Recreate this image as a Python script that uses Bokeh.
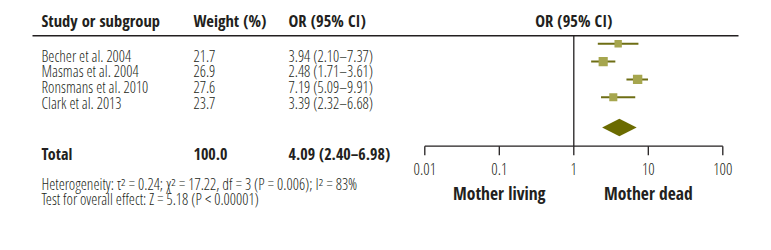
from bokeh.plotting import figure
from bokeh.models import Range1d, LogScale
from bokeh.core.properties import value
from bokeh.embed import file_html
from bokeh.resources import INLINE

# ---- data ----
studies = ["Becher et al. 2004", "Masmas et al. 2004", "Ronsmans et al. 2010", "Clark et al. 2013"]
weights = [21.7, 26.9, 27.6, 23.7]
odds = [3.94, 2.48, 7.19, 3.39]
ci_low = [2.10, 1.71, 5.09, 2.32]
ci_high = [7.37, 3.61, 9.91, 6.68]
total_label = "Total"
total_weight = 100.0
total_or = 4.09
total_low = 2.40
total_high = 6.98
ticks = [0.01, 0.1, 1, 10, 100]
tick_labels = ["0.01", "0.1", "1", "10", "100"]
side_labels = ["Mother living", "Mother dead"]
side_pos = [0.1, 10]
headers = ["Study or subgroup", "Weight (%)", "OR (95% CI)"]
note1 = "Heterogeneity: \u03c4\u00b2\u2009=\u20090.24; \u03c7\u00b2\u2009=\u200917.22, df\u2009=\u20093 (P\u2009=\u20090.006); I\u00b2\u2009=\u200983%"
note2 = "Test for overall effect: Z\u2009=\u20095.18 (P\u2009<\u20090.00001)"

REG = "'Open Sans Condensed Light', Roboto, sans-serif"
BOLD = "Open Sans Condensed"
TXT = "#231f20"
W, H = 771, 250

# log scale: value 1 at x=573.3, 74.5 px per decade
x_one, per_dec = 573.3, 74.5
lo = 10 ** (-x_one / per_dec)
hi = 10 ** ((W - x_one) / per_dec)

p = figure(width=W, height=H, output_backend="svg", toolbar_location=None,
           x_range=Range1d(0, W), y_range=Range1d(H, 0),
           min_border=0, outline_line_color=None)
p.extra_x_ranges = {"log": Range1d(lo, hi)}
p.extra_x_scales = {"log": LogScale()}
p.xaxis.visible = False
p.yaxis.visible = False
p.xgrid.visible = False
p.ygrid.visible = False
p.background_fill_color = "white"
p.border_fill_color = "white"

col_x = [41, 193, 288]
header_y = 19.5
row_y = [55 + 15.67 * i for i in range(len(studies))]
total_y = 153.3

# headers
p.text(x=col_x, y=[header_y] * 3, text=headers, text_font=value(BOLD), text_font_style="bold",
       text_font_size="16.5px", text_baseline="middle", text_color=TXT)
p.text(x=[1], y=[header_y], text=["OR (95% CI)"], x_range_name="log", text_font=value(BOLD),
       text_font_style="bold", text_font_size="16.5px", text_baseline="middle", text_align="center",
       text_color=TXT)
p.line(x=[32, 738], y=[35.3, 35.3], line_color=TXT, line_width=1.5)

# rows
or_text = [f"{o:.2f} ({l:.2f}\u2013{h:.2f})" for o, l, h in zip(odds, ci_low, ci_high)]
w_text = [f"{w:.1f}" for w in weights]
for xs, txt in zip(col_x, [studies, w_text, or_text]):
    p.text(x=[xs] * len(txt), y=row_y, text=txt, text_font=value(REG), text_font_size="15.5px",
           text_baseline="middle", text_color=TXT)

# total row
tot = [total_label, f"{total_weight:.1f}", f"{total_or:.2f} ({total_low:.2f}\u2013{total_high:.2f})"]
p.text(x=col_x, y=[total_y] * 3, text=tot, text_font=value(BOLD), text_font_style="bold",
       text_font_size="16px", text_baseline="middle", text_color=TXT)

# notes
p.text(x=[41, 41], y=[183.3, 198.5], text=[note1, note2], text_font=value(REG),
       text_font_size="15.5px", text_baseline="middle", text_color=TXT)

# forest plot
mark_y = [43.3 + 17.8 * i for i in range(len(studies))]
diamond_y = 127
axis_y = 145.7
p.line(x=[1, 1], y=[35.3, axis_y], x_range_name="log", line_color=TXT, line_width=1.3)
p.segment(x0=ci_low, x1=ci_high, y0=mark_y, y1=mark_y, x_range_name="log",
          line_color="#6e6e14", line_width=2)
p.scatter(x=odds, y=mark_y, size=[w * 0.34 for w in weights], marker="square",
          x_range_name="log", fill_color="#a6a64e", line_color=None)
p.patch(x=[total_low, total_or, total_high, total_or],
        y=[diamond_y, diamond_y - 8.8, diamond_y, diamond_y + 8.8],
        x_range_name="log", fill_color="#6b6b00", line_color=None)

# axis
p.line(x=[ticks[0], ticks[-1]], y=[axis_y, axis_y], x_range_name="log", line_color=TXT, line_width=1.3)
p.segment(x0=ticks, x1=ticks, y0=[axis_y] * len(ticks), y1=[axis_y + 9] * len(ticks),
          x_range_name="log", line_color=TXT, line_width=1.3)
p.text(x=ticks, y=[168] * len(ticks), text=tick_labels, x_range_name="log", text_font=value(REG),
       text_font_size="16px", text_baseline="middle", text_align="center", text_color=TXT)
p.text(x=side_pos, y=[192.5, 192.5], text=side_labels, x_range_name="log", text_font=value(BOLD),
       text_font_style="bold", text_font_size="17.5px", text_baseline="middle", text_align="center",
       text_color=TXT)

open("out.html", "w").write(file_html(p, INLINE))
